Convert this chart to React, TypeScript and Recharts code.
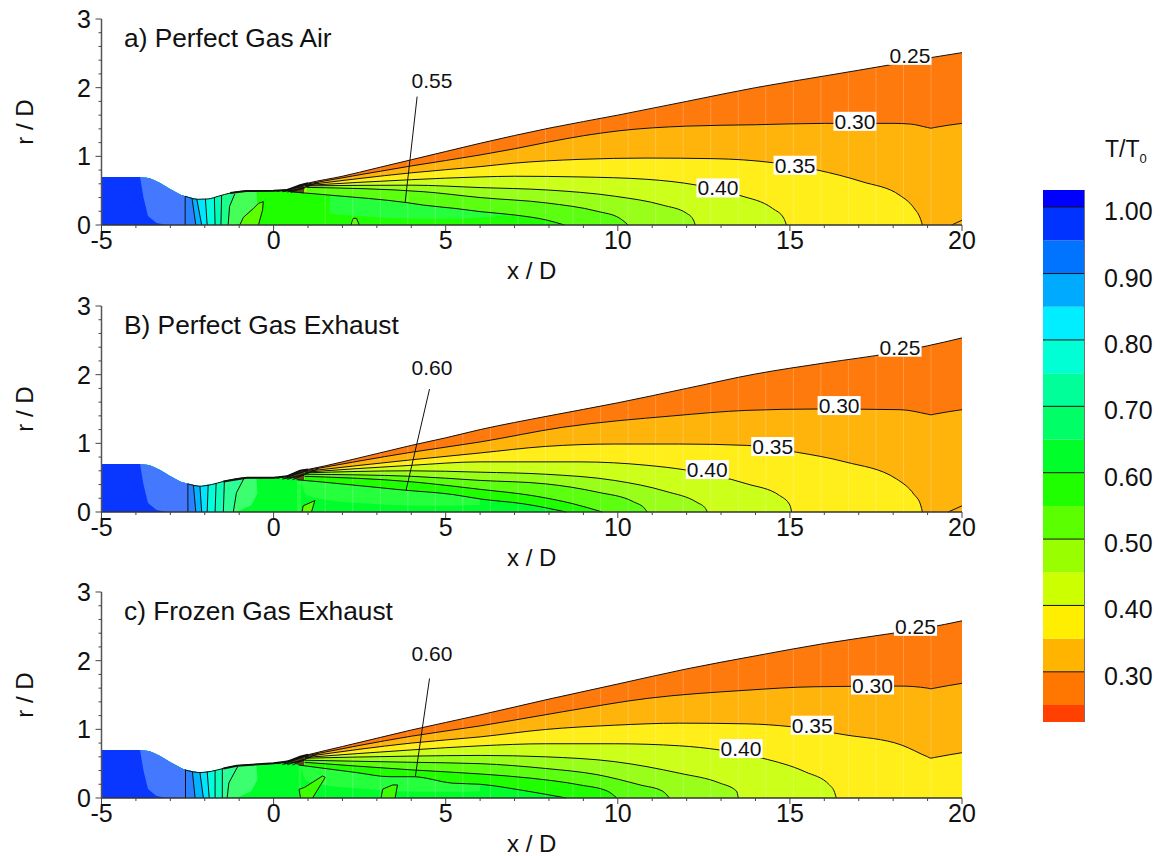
import React from 'react';
import {
  Area,
  Bar,
  ComposedChart,
  Line,
  ReferenceArea,
  ReferenceLine,
  Scatter,
  XAxis,
  YAxis,
} from 'recharts';

type Pt = [number, number];

const FONT = '"Liberation Sans", Arial, sans-serif';

const xTicks = [-5, -4, -3, -2, -1, 0, 1, 2, 3, 4, 5, 6, 7, 8, 9, 10, 11, 12, 13, 14, 15, 16, 17, 18, 19, 20];
const xMajor = [-5, 0, 5, 10, 15, 20];
const rTicks = [0, 0.2, 0.4, 0.6, 0.8, 1, 1.2, 1.4, 1.6, 1.8, 2, 2.2, 2.4, 2.6, 2.8, 3];
const rMajor = [0, 1, 2, 3];

// band colours under each contour, outermost first
const wallColor = '#ff7a0c';
const contourFills = ['#ffb40c', '#ffee1a', '#ccff1a', '#99ff1a', '#5cff10', '#1fff00', '#00ff2a'];

// nozzle wall, r/D against x/D
const wallA: Pt[] = [[-5, 0.7], [-3.9, 0.7], [-3.6, 0.68], [-3.3, 0.61], [-3, 0.52], [-2.7, 0.44], [-2.57, 0.42], [-2.2, 0.375], [-1.9, 0.38], [-1.6, 0.42], [-1.26, 0.465], [-0.8, 0.495], [0, 0.5], [0.4, 0.51], [0.77, 0.58], [1, 0.61], [2, 0.71], [3, 0.83], [4, 0.95], [5, 1.07], [6, 1.19], [8, 1.41], [10, 1.6], [12, 1.8], [14, 2], [16, 2.17], [18, 2.34], [19, 2.43], [20, 2.51]];
const wallB: Pt[] = [[-5, 0.7], [-3.9, 0.7], [-3.6, 0.68], [-3.3, 0.61], [-3, 0.52], [-2.7, 0.44], [-2.49, 0.41], [-2.14, 0.376], [-1.8, 0.4], [-1.46, 0.445], [-0.78, 0.5], [0, 0.5], [0.4, 0.52], [0.77, 0.6], [1, 0.62], [2, 0.73], [3, 0.85], [4, 0.97], [5, 1.08], [6, 1.2], [8, 1.4], [10, 1.59], [12, 1.8], [14, 2.01], [16, 2.17], [18, 2.32], [19, 2.42], [20, 2.535]];
const wallC: Pt[] = [[-5, 0.7], [-3.9, 0.7], [-3.6, 0.68], [-3.3, 0.61], [-3, 0.52], [-2.7, 0.44], [-2.58, 0.41], [-2.14, 0.37], [-1.8, 0.39], [-1.46, 0.43], [-1.07, 0.47], [0, 0.505], [0.4, 0.53], [0.77, 0.6], [1, 0.63], [2, 0.75], [3, 0.87], [4, 0.99], [5, 1.1], [6, 1.21], [8, 1.44], [10, 1.66], [12, 1.88], [14, 2.07], [16, 2.25], [18, 2.4], [19, 2.48], [20, 2.58]];

// contour levels in the expansion, 0.30 first
const contoursA: Pt[][] = [
  [[0.9, 0.59], [4, 0.86], [6, 1.02], [7, 1.11], [8, 1.21], [9, 1.3], [10, 1.37], [12, 1.44], [14, 1.46], [16, 1.48], [18, 1.48], [18.5, 1.47], [19, 1.42], [19.1, 1.41], [19.2, 1.42], [20, 1.48]],
  [[0.9, 0.58], [4, 0.76], [6, 0.85], [6.97, 0.9], [8.9, 0.956], [10.85, 0.975], [12.8, 0.966], [14.5, 0.908], [15.8, 0.8], [17.1, 0.63], [18.2, 0.43], [18.6, 0.25], [18.8, 0.08], [18.85, 0]],
  [[0.9, 0.575], [4, 0.66], [6, 0.7], [7, 0.71], [8.9, 0.7], [10.85, 0.665], [12.3, 0.58], [13.55, 0.43], [14.5, 0.24], [14.82, 0.1], [14.9, 0]],
  [[0.9, 0.57], [4, 0.58], [6, 0.545], [7.95, 0.51], [9.9, 0.42], [11.3, 0.29], [12, 0.17], [12.2, 0.07], [12.25, 0]],
  [[0.96, 0.548], [4.35, 0.485], [6, 0.4], [7.95, 0.32], [9.4, 0.2], [10.05, 0.1], [10.3, 0]],
  [[0.47, 0.485], [1.63, 0.435], [3.88, 0.325], [4.35, 0.29], [5.3, 0.24], [6, 0.195], [7, 0.146], [7.95, 0.07], [8.45, 0]],
];
const contoursB: Pt[][] = [
  [[0.9, 0.6], [4, 0.87], [6, 1.02], [8.4, 1.234], [11.6, 1.4], [13.75, 1.48], [15.8, 1.5], [18.2, 1.49], [19, 1.425], [19.1, 1.415], [19.2, 1.425], [20, 1.49]],
  [[0.9, 0.59], [4, 0.76], [6, 0.86], [7.9, 0.955], [9.9, 0.99], [11.8, 0.99], [13.75, 0.97], [15.2, 0.87], [16.6, 0.73], [18.1, 0.48], [18.6, 0.26], [18.8, 0.1], [18.85, 0]],
  [[0.9, 0.58], [4, 0.68], [6, 0.73], [8.9, 0.73], [10.85, 0.68], [12, 0.61], [13.75, 0.41], [14.7, 0.24], [15, 0.1], [15.05, 0]],
  [[0.9, 0.57], [4, 0.6], [6, 0.58], [7.9, 0.55], [9.9, 0.46], [11.4, 0.3], [12.3, 0.14], [12.55, 0.05], [12.6, 0]],
  [[0.9, 0.55], [4, 0.52], [6, 0.46], [7.9, 0.41], [9.4, 0.29], [10.45, 0.15], [10.8, 0.04], [10.85, 0]],
  [[0.9, 0.52], [4, 0.44], [6, 0.33], [7.5, 0.24], [8.7, 0.12], [9.55, 0]],
  [[0.68, 0.469], [1.45, 0.435], [3.76, 0.32], [5.2, 0.255], [6, 0.19], [7.25, 0.12], [8.5, 0]],
];
const contoursC: Pt[][] = [
  [[0.9, 0.61], [4, 0.9], [6, 1.05], [8.4, 1.256], [10.85, 1.45], [13.75, 1.57], [15.7, 1.62], [18.2, 1.63], [19, 1.6], [19.1, 1.59], [19.2, 1.6], [20, 1.67]],
  [[0.9, 0.6], [4, 0.8], [6, 0.89], [7.9, 0.998], [9.9, 1.06], [11.8, 1.09], [13.75, 1.08], [15, 1.04], [16.6, 0.92], [18.25, 0.77], [19, 0.6], [19.1, 0.58], [19.2, 0.59], [20, 0.66]],
  [[0.9, 0.59], [4, 0.7], [6, 0.76], [7.9, 0.79], [9.9, 0.79], [11.8, 0.76], [12.95, 0.7], [14.2, 0.58], [15.45, 0.38], [16.15, 0.19], [16.3, 0.08], [16.35, 0]],
  [[0.9, 0.58], [4, 0.61], [6, 0.62], [7.9, 0.6], [9.9, 0.53], [11.8, 0.36], [12.95, 0.22], [13.45, 0.1], [13.5, 0]],
  [[0.9, 0.55], [4, 0.52], [6, 0.5], [7.9, 0.43], [9.4, 0.34], [10.65, 0.19], [11.3, 0.1], [11.5, 0]],
  [[0.9, 0.52], [4, 0.41], [6, 0.35], [7.45, 0.29], [8.9, 0.19], [9.7, 0.1], [9.97, 0]],
  [[0.73, 0.48], [2.41, 0.37], [3.38, 0.31], [4.05, 0.31], [5.2, 0.216], [6, 0.2], [7.25, 0.11], [8.5, 0]],
];

// little contour at the outlet corner
const cornerA: Pt[] = [[19.7, 0], [20, 0.07]];
const cornerB: Pt[] = [[19.6, 0], [20, 0.09]];

// dark wedge of tightly packed contours where the expansion starts
const wedgeA: Pt[][] = [[[0.1, 0.49], [0.85, 0.56]], [[0.25, 0.485], [0.9, 0.53]], [[0.4, 0.48], [1.1, 0.58]], [[0.5, 0.475], [1.3, 0.62]], [[0.3, 0.49], [1, 0.6]]];
const wedgeB: Pt[][] = [[[0.1, 0.49], [0.85, 0.58]], [[0.25, 0.48], [0.9, 0.54]], [[0.4, 0.475], [1.1, 0.59]], [[0.55, 0.47], [1.3, 0.63]], [[0.3, 0.485], [1, 0.61]]];
const wedgeC: Pt[][] = [[[0.1, 0.5], [0.85, 0.59]], [[0.25, 0.49], [0.9, 0.55]], [[0.4, 0.485], [1.1, 0.6]], [[0.55, 0.48], [1.3, 0.65]], [[0.3, 0.495], [1, 0.62]]];

// edges of the colour zones in the throat, top of the wall down to the axis, rightmost first
const throatEdgesA: Pt[][] = [
  [[-0.5, 0.5], [-0.47, 0.27], [-0.65, 0.1], [-1, 0.02], [-1.3, 0]],
  [[-1.13, 0.45], [-1.28, 0.27], [-1.32, 0]],
  [[-1.51, 0.43], [-1.53, 0]],
  [[-1.72, 0.395], [-1.7, 0]],
  [[-1.98, 0.378], [-1.93, 0]],
  [[-2.23, 0.376], [-2.09, 0]],
  [[-2.37, 0.39], [-2.26, 0]],
  [[-2.57, 0.42], [-2.57, 0]],
  [[-3.88, 0.7], [-3.78, 0.4], [-3.65, 0.13], [-3.4, 0.03], [-3.1, 0]],
];
const throatEdgesB: Pt[][] = [
  [[-0.5, 0.5], [-0.47, 0.27], [-0.65, 0.1], [-1, 0.02], [-1.2, 0]],
  [[-0.86, 0.49], [-1.08, 0.28], [-1.17, 0]],
  [[-1.43, 0.445], [-1.46, 0]],
  [[-1.67, 0.42], [-1.7, 0]],
  [[-1.9, 0.4], [-1.93, 0]],
  [[-2.14, 0.376], [-2.09, 0]],
  [[-2.33, 0.39], [-2.26, 0]],
  [[-2.49, 0.41], [-2.49, 0]],
  [[-3.88, 0.7], [-3.78, 0.4], [-3.65, 0.13], [-3.4, 0.03], [-3.1, 0]],
];
const throatEdgesC: Pt[][] = [
  [[-0.5, 0.49], [-0.47, 0.27], [-0.65, 0.1], [-1, 0.02], [-1.35, 0]],
  [[-1.03, 0.47], [-1.3, 0.22], [-1.35, 0]],
  [[-1.49, 0.43], [-1.49, 0]],
  [[-1.7, 0.405], [-1.7, 0]],
  [[-1.93, 0.385], [-1.87, 0]],
  [[-2.14, 0.37], [-2.04, 0]],
  [[-2.36, 0.385], [-2.28, 0]],
  [[-2.56, 0.41], [-2.56, 0]],
  [[-3.88, 0.7], [-3.78, 0.4], [-3.65, 0.13], [-3.4, 0.03], [-3.1, 0]],
];
const throatColorsA = ['#45ff58', '#1cff88', '#00ffb4', '#00ffdc', '#00e6ff', '#00b4ff', '#2a80ff', '#4478ff', '#0a37ff'];
const throatColorsB = ['#3cff70', '#2cff96', '#10ffb8', '#00ffdc', '#00e6ff', '#00b4ff', '#2a80ff', '#4478ff', '#0a37ff'];
// soft colour steps with no contour line on them: the first and the last
const throatInk = [false, true, true, true, true, true, true, true, false];

const islandsA: Pt[][] = [
  [[-0.98, 0], [-0.88, 0.11], [-0.59, 0.24], [-0.44, 0.315], [-0.3, 0.34], [-0.32, 0.22], [-0.44, 0]],
  [[2.25, 0], [2.31, 0.097], [2.41, 0.097], [2.49, 0]],
];
const islandsB: Pt[][] = [
  [[0.825, 0], [0.86, 0.09], [1.2, 0.167], [1.1, 0]],
];
const islandsC: Pt[][] = [
  [[0.78, 0], [0.74, 0.126], [0.9, 0.155], [1.42, 0.32], [1.5, 0.3], [1.13, 0]],
  [[3.12, 0], [3.17, 0.13], [3.46, 0.19], [3.6, 0.19], [3.53, 0]],
];

// lower edge of the paler patch under the innermost contour
const patchLowA: Pt[] = [[0.8, 0.46], [0.95, 0.25], [1.6, 0.17], [2.5, 0.13], [3.6, 0.1], [5, 0.09], [7, 0.146]];
const patchLowB: Pt[] = [[0.8, 0.45], [0.95, 0.25], [1.6, 0.17], [2.5, 0.13], [3.6, 0.1], [5, 0.09], [7, 0.13]];
const patchLowC: Pt[] = [[0.8, 0.45], [0.95, 0.25], [1.6, 0.18], [2.5, 0.14], [3.6, 0.1], [5, 0.09], [7, 0.12]];

// stations of the mesh lines that show through the flood
const meshStations = [1.5, 2.3, 3.1, 3.9, 4.7, 5.5, 6.3, 7.1, 7.9, 8.7, 9.5, 10.3, 11.1, 11.9, 12.7, 13.5, 14.3, 15.1, 15.9, 16.7, 17.5, 18.3, 19.1];

const leaderA: Pt[] = [[4.17, 1.87], [3.82, 0.32]];
const leaderB: Pt[] = [[4.53, 1.79], [3.85, 0.32]];
const leaderC: Pt[] = [[4.53, 1.74], [4.12, 0.32]];

const labelsA = [
  { x: 18.49, r: 2.47, text: '0.25' },
  { x: 16.89, r: 1.51, text: '0.30' },
  { x: 15.15, r: 0.87, text: '0.35' },
  { x: 12.91, r: 0.54, text: '0.40' },
  { x: 4.6, r: 2.1, text: '0.55' },
];
const labelsB = [
  { x: 18.2, r: 2.4, text: '0.25' },
  { x: 16.43, r: 1.55, text: '0.30' },
  { x: 14.5, r: 0.953, text: '0.35' },
  { x: 12.6, r: 0.618, text: '0.40' },
  { x: 4.6, r: 2.1, text: '0.60' },
];
const labelsC = [
  { x: 18.65, r: 2.5, text: '0.25' },
  { x: 17.4, r: 1.645, text: '0.30' },
  { x: 15.65, r: 1.06, text: '0.35' },
  { x: 13.58, r: 0.72, text: '0.40' },
  { x: 4.6, r: 2.1, text: '0.60' },
];

// colour legend
const legendEdges = [0.2244, 0.25, 0.3, 0.35, 0.4, 0.45, 0.5, 0.55, 0.6, 0.65, 0.7, 0.75, 0.8, 0.85, 0.9, 0.95, 1, 1.0259];
const legendColors = ['#ff4000', '#ff7700', '#ffb400', '#ffee00', '#ccff00', '#99ff00', '#5cff00', '#1fff00', '#00ff2a', '#00ff66', '#00ff99', '#00ffd5', '#00eeff', '#00aaff', '#0073ff', '#0033ff', '#0000ff'];
const legendTicks = [0.3, 0.4, 0.5, 0.6, 0.7, 0.8, 0.9, 1];

const rows = (pts: Pt[]) => pts.map(([x, r]) => ({ x, r }));

const zoneOutline = (wall: Pt[], edge: Pt[]): Pt[] => [...wall.filter((p) => p[0] < edge[0][0]), ...edge];

// wall height at a mesh station
const wallAt = (wall: Pt[], x: number) => {
  const i = wall.findIndex((p) => p[0] >= x);
  const [x0, r0] = wall[i - 1];
  const [x1, r1] = wall[i];
  return r0 + ((x - x0) / (x1 - x0)) * (r1 - r0);
};

const XTick = ({ x, y, payload }: any) => {
  const major = xMajor.includes(payload.value);
  return (
    <g>
      <line x1={x} x2={x} y1={y - 8} y2={y - 8 + (major ? 6 : 3)} stroke="#444" strokeWidth={1} />
      {major && (
        <text x={x} y={y + 16} textAnchor="middle" fontFamily={FONT} fontSize={25} fill="#111">
          {payload.value}
        </text>
      )}
    </g>
  );
};

const YTick = ({ y, payload }: any) => {
  const major = rMajor.includes(payload.value);
  return (
    <g>
      <line x1={101.5} x2={101.5 - (major ? 6 : 3)} y1={y} y2={y} stroke="#444" strokeWidth={1} />
      {major && (
        <text x={91} y={y + 9} textAnchor="end" fontFamily={FONT} fontSize={25} fill="#111">
          {payload.value}
        </text>
      )}
    </g>
  );
};

const ContourLabel = ({ cx, cy, payload }: any) => (
  <g>
    <rect x={cx - 21.5} y={cy - 9.5} width={43} height={19} fill="#fff" />
    <text x={cx} y={cy + 7.5} textAnchor="middle" fontFamily={FONT} fontSize={21} fill="#111">
      {payload.text}
    </text>
  </g>
);

const LegendTick = ({ x, y, payload }: any) => (
  <text x={x + 12} y={y + 13} fontFamily={FONT} fontSize={25} fill="#111">
    {payload.value.toFixed(2)}
  </text>
);

interface PanelProps {
  top: number;
  title: string;
  wall: Pt[];
  contours: Pt[][];
  corner?: Pt[];
  wedge: Pt[][];
  throatEdges: Pt[][];
  throatColors: string[];
  islands: Pt[][];
  islandFill: string;
  innerFill: string;
  patchLow: Pt[];
  leader: Pt[];
  labels: { x: number; r: number; text: string }[];
}

const Panel: React.FC<PanelProps> = ({
  top, title, wall, contours, corner, wedge, throatEdges, throatColors, islands, islandFill, innerFill, patchLow, leader, labels,
}) => {
  const inner = contours[contours.length - 1];
  const innerOutline = zoneOutline(wall, inner);
  const patchTop = inner.filter((p) => p[0] >= 0.6 && p[0] <= 7);
  return (
    <div style={{ position: 'absolute', left: 0, top }}>
      <ComposedChart width={1000} height={290} margin={{ top: 19, right: 38, bottom: 0, left: 0 }}>
        <XAxis
          type="number"
          dataKey="x"
          domain={[-5, 20]}
          ticks={xTicks}
          interval={0}
          tick={<XTick />}
          tickLine={false}
          axisLine={{ stroke: '#333', strokeWidth: 1.5 }}
          height={65}
          label={{ value: 'x / D', position: 'insideBottom', offset: 11, fontFamily: FONT, fontSize: 24, fill: '#111' }}
        />
        <YAxis
          type="number"
          domain={[0, 3]}
          ticks={rTicks}
          interval={0}
          tick={<YTick />}
          tickLine={false}
          axisLine={{ stroke: '#555', strokeWidth: 1.5 }}
          width={101.5}
        />
        <Area type="monotone" data={rows(wall)} dataKey="r" fill={wallColor} fillOpacity={1} stroke="none" isAnimationActive={false} />
        <Area data={rows(wall.filter((p) => p[0] >= 0.3 && p[0] <= 1))} dataKey="r" fill="#5a4a14" fillOpacity={1} stroke="none" isAnimationActive={false} />
        {contours.slice(0, -1).map((c, i) => (
          <Area key={i} type="monotone" data={rows(c)} dataKey="r" fill={contourFills[i]} fillOpacity={1} stroke="none" isAnimationActive={false} />
        ))}
        <Area type="monotone" data={rows(innerOutline)} dataKey="r" fill={innerFill} fillOpacity={1} stroke="none" isAnimationActive={false} />
        <Area data={rows(patchTop)} dataKey="r" fill="#26ff3c" fillOpacity={1} stroke="none" isAnimationActive={false} />
        <Area type="monotone" data={rows(patchLow)} dataKey="r" fill={innerFill} fillOpacity={1} stroke="none" isAnimationActive={false} />
        {throatEdges.map((edge, i) => (
          <Area key={i} data={rows(zoneOutline(wall, edge))} dataKey="r" fill={throatColors[i]} fillOpacity={1} stroke="none" isAnimationActive={false} />
        ))}
        {islands.map((island, i) => (
          <Area key={i} data={rows(island)} dataKey="r" fill={islandFill} fillOpacity={1} stroke="#111" strokeWidth={1} isAnimationActive={false} />
        ))}
        {meshStations.map((s) => (
          <Line key={s} data={rows([[s, 0], [s, wallAt(wall, s)]])} dataKey="r" stroke="#fff" strokeOpacity={0.22} strokeWidth={1} dot={false} isAnimationActive={false} />
        ))}
        <Line type="monotone" data={rows(wall.filter((p) => p[0] >= -2.6))} dataKey="r" stroke="#111" strokeWidth={1} dot={false} isAnimationActive={false} />
        <Line data={rows(wall.filter((p) => p[0] >= -1.5 && p[0] <= 1))} dataKey="r" stroke="#111" strokeWidth={2} dot={false} isAnimationActive={false} />
        {contours.map((c, i) => (
          <Line key={i} type="monotone" data={rows(c)} dataKey="r" stroke="#111" strokeWidth={1} dot={false} isAnimationActive={false} />
        ))}
        {wedge.map((c, i) => (
          <Line key={i} data={rows(c)} dataKey="r" stroke="#111" strokeWidth={1} dot={false} isAnimationActive={false} />
        ))}
        {throatEdges.map((edge, i) => throatInk[i] && (
          <Line key={i} data={rows(edge)} dataKey="r" stroke="#111" strokeWidth={1} dot={false} isAnimationActive={false} />
        ))}
        {corner && <Line data={rows(corner)} dataKey="r" stroke="#111" strokeWidth={1} dot={false} isAnimationActive={false} />}
        <Line data={rows(leader)} dataKey="r" stroke="#111" strokeWidth={1} dot={false} isAnimationActive={false} />
        <Scatter data={labels} dataKey="r" shape={<ContourLabel />} isAnimationActive={false} />
        <text x={124} y={47} fontFamily={FONT} fontSize={26.3} fill="#111">{title}</text>
        <text x={25} y={122} transform="rotate(-90 25 122)" dy={8} textAnchor="middle" fontFamily={FONT} fontSize={24} fill="#111">r / D</text>
      </ComposedChart>
    </div>
  );
};

const legendRow = legendColors.reduce<Record<string, number | string>>(
  (row, _c, i) => {
    row[`b${i}`] = legendEdges[i + 1] - (i === 0 ? 0 : legendEdges[i]);
    return row;
  },
  { name: 'T' },
);

const ColorLegend = () => (
  <div style={{ position: 'absolute', left: 1043, top: 190 }}>
    <ComposedChart width={120} height={532} data={[legendRow]} barCategoryGap={0} margin={{ top: 0, right: 0, bottom: 0, left: 0 }}>
      <XAxis dataKey="name" hide />
      <YAxis
        orientation="right"
        type="number"
        domain={[legendEdges[0], legendEdges[legendEdges.length - 1]]}
        allowDataOverflow
        ticks={legendTicks}
        interval={0}
        tick={<LegendTick />}
        tickLine={false}
        axisLine={false}
        width={79}
      />
      {legendColors.map((c, i) => (
        <Bar key={i} dataKey={`b${i}`} stackId="t" fill={c} isAnimationActive={false} />
      ))}
      {legendTicks.map((v) => (
        <ReferenceLine key={v} y={v} stroke="#111" strokeWidth={1} />
      ))}
      <ReferenceArea y1={legendEdges[0]} y2={legendEdges[legendEdges.length - 1]} fill="none" stroke="#444" strokeWidth={1.5} />
    </ComposedChart>
  </div>
);

const App = () => (
  <div style={{ position: 'absolute', left: 0, top: 0, width: 1163, height: 856, background: '#fff', overflow: 'hidden' }}>
    <Panel top={0} title="a) Perfect Gas Air" wall={wallA} contours={contoursA} corner={cornerA} wedge={wedgeA} throatEdges={throatEdgesA} throatColors={throatColorsA} islands={islandsA} islandFill="#5cff00" innerFill="#1fff00" patchLow={patchLowA} leader={leaderA} labels={labelsA} />
    <Panel top={286.5} title="B) Perfect Gas Exhaust" wall={wallB} contours={contoursB} corner={cornerB} wedge={wedgeB} throatEdges={throatEdgesB} throatColors={throatColorsB} islands={islandsB} islandFill="#5cff00" innerFill="#00ff2a" patchLow={patchLowB} leader={leaderB} labels={labelsB} />
    <Panel top={573} title="c) Frozen Gas Exhaust" wall={wallC} contours={contoursC} wedge={wedgeC} throatEdges={throatEdgesC} throatColors={throatColorsB} islands={islandsC} islandFill="#3cff00" innerFill="#00ff2a" patchLow={patchLowC} leader={leaderC} labels={labelsC} />
    <ColorLegend />
    <div style={{ position: 'absolute', left: 1105, top: 136, fontFamily: FONT, fontSize: 23, color: '#111', whiteSpace: 'nowrap' }}>
      T/T<span style={{ fontSize: 13, position: 'relative', top: 6 }}>0</span>
    </div>
  </div>
);

export default App;
